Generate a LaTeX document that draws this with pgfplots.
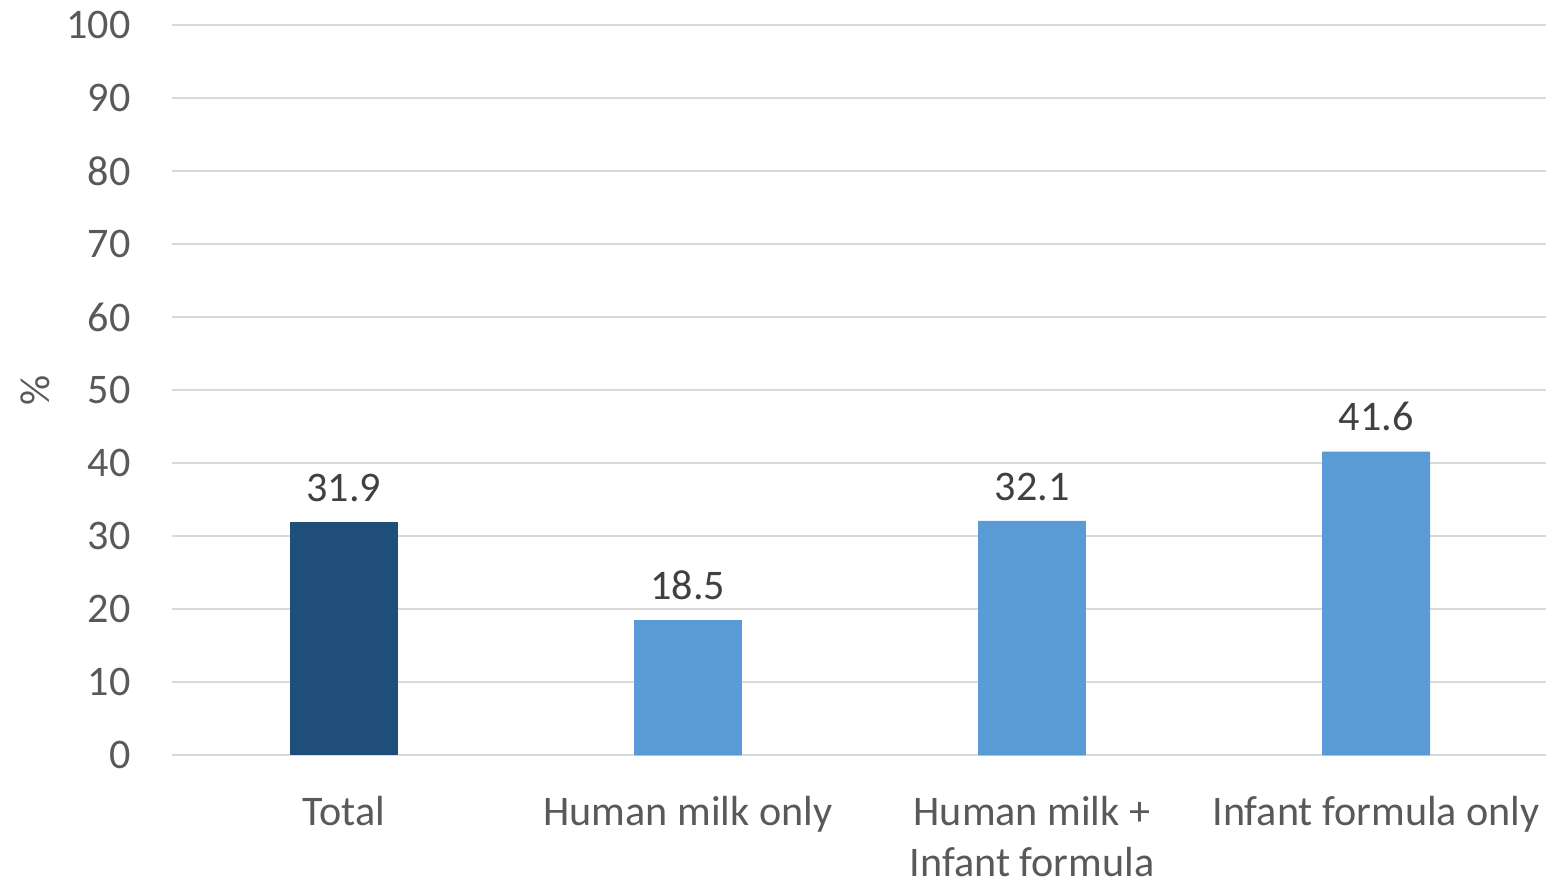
\documentclass[border=0pt]{standalone}
\usepackage{pgfplots}
\pgfplotsset{compat=1.18}
\usepackage{fontspec}
\setmainfont{Carlito}
\definecolor{darkbar}{HTML}{1F4E79}
\definecolor{lightbar}{HTML}{5B9BD5}
\definecolor{gridgray}{HTML}{D9D9D9}
\definecolor{ticktext}{HTML}{595959}
\definecolor{valtext}{HTML}{404040}
\begin{document}
\begin{tikzpicture}
\begin{axis}[
  scale only axis,
  width=27.506cm, height=14.62cm,
  ymin=0, ymax=100,
  ytick={0,10,...,100},
  xmin=-0.5, xmax=3.494,
  xtick={0,1,2,3},
  xticklabels={Total, Human milk only, {Human milk +\\Infant formula}, Infant formula only},
  axis line style={draw=none},
  major tick length=0pt,
  ymajorgrids,
  grid style={gridgray, line width=1.1pt},
  /pgf/number format/assume math mode=true,
  tick label style={font=\fontsize{24}{29}\selectfont, text=ticktext},
  yticklabel style={inner sep=0pt, xshift=-0.82cm, anchor=east},
  xticklabel style={inner sep=0pt, yshift=-0.82cm, anchor=north, align=center},
  ylabel={\%},
  every axis y label/.style={at={(axis description cs:0,0.5)}, xshift=-2.74cm, rotate=90, anchor=center,
    font=\fontsize{24}{29}\selectfont, text=ticktext},
  ybar, bar width=2.16cm,
  nodes near coords,
  nodes near coords style={font=\fontsize{24}{29}\selectfont, text=valtext, anchor=south, inner sep=0pt, yshift=0.40cm,
    /pgf/number format/.cd, fixed, fixed zerofill, precision=1, assume math mode=true},
]
\addplot[fill=darkbar, draw=none, bar shift=0pt] coordinates {(0,31.9)};
\addplot[fill=lightbar, draw=none, bar shift=0pt] coordinates {(1,18.5) (2,32.1) (3,41.6)};
\coordinate (bl) at (rel axis cs:-0.12509,-0.17100);
\coordinate (tr) at (rel axis cs:1,1.0342);
\end{axis}
\path (bl) rectangle (tr);
\end{tikzpicture}
\end{document}
